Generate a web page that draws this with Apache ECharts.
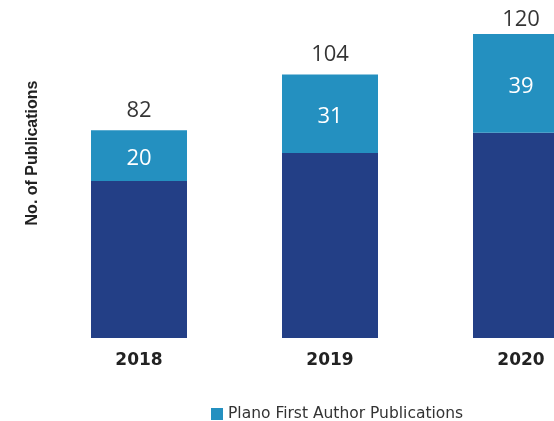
<!DOCTYPE html>
<html style="height: 100%">
<head>
  <meta charset="utf-8">
  <title>Publications</title>
  <script src="https://cdn.jsdelivr.net/npm/echarts@6/dist/echarts.min.js"></script>
</head>
<body style="height: 100%; margin: 0; background: #fff">
  <div id="main" style="width:554px;height:421px;"></div>
  <script type="text/javascript">
    // chart data
    var years = ['2018', '2019', '2020'];
    var otherPubs = [62, 73, 81];
    var firstAuthorPubs = [20, 31, 39];
    var totals = [82, 104, 120];

    var myChart = echarts.init(document.getElementById('main'));

    // total labels sit above the bars; the last one is squeezed in at the top edge
    var totalData = totals.map(function (v, i) {
      return { value: v, label: { distance: i === totals.length - 1 ? 3 : 9 } };
    });

    var option = {
      animation: false,
      graphic: [{
        type: 'text',
        x: 33, y: 153,
        rotation: Math.PI / 2,
        style: {
          text: 'No. of Publications',
          font: 'bold 16px "Liberation Sans", Arial, sans-serif',
          fill: '#222',
          align: 'center',
          verticalAlign: 'middle'
        }
      }],
      legend: {
        data: ['Plano First Author Publications'],
        left: 206,
        top: 401,
        icon: 'rect',
        itemWidth: 12,
        itemHeight: 12,
        itemGap: 8,
        textStyle: { fontFamily: 'DejaVu Sans', fontSize: 15.5, color: '#333' }
      },
      // the last bar runs past the right edge, so the grid is wider than the canvas
      grid: { left: 43.5, width: 573, top: 34, bottom: 83, outerBoundsMode: 'none', containLabel: false },
      xAxis: {
        type: 'category',
        data: years,
        axisLine: { show: false },
        axisTick: { show: false },
        axisLabel: {
          margin: 14,
          fontFamily: 'DejaVu Sans',
          fontWeight: 'bold',
          fontSize: 17,
          color: '#222'
        }
      },
      yAxis: {
        type: 'value',
        min: 0,
        max: 120,
        show: false
      },
      series: [
        {
          name: 'Other Publications',
          type: 'bar',
          stack: 'pubs',
          barWidth: 96,
          data: otherPubs,
          itemStyle: { color: '#233F86' }
        },
        {
          name: 'Plano First Author Publications',
          type: 'bar',
          stack: 'pubs',
          barWidth: 96,
          data: firstAuthorPubs,
          itemStyle: { color: '#2490C0' },
          label: {
            show: true,
            position: 'inside',
            offset: [0, 3],
            color: '#fff',
            fontFamily: 'Open Sans',
            fontSize: 22
          }
        },
        {
          name: 'Total',
          type: 'scatter',
          symbolSize: 0,
          data: totalData,
          label: {
            show: true,
            position: 'top',
            color: '#000',
            fontFamily: 'Open Sans',
            fontSize: 22
          }
        }
      ]
    };
    myChart.setOption(option);
  </script>
</body>
</html>
